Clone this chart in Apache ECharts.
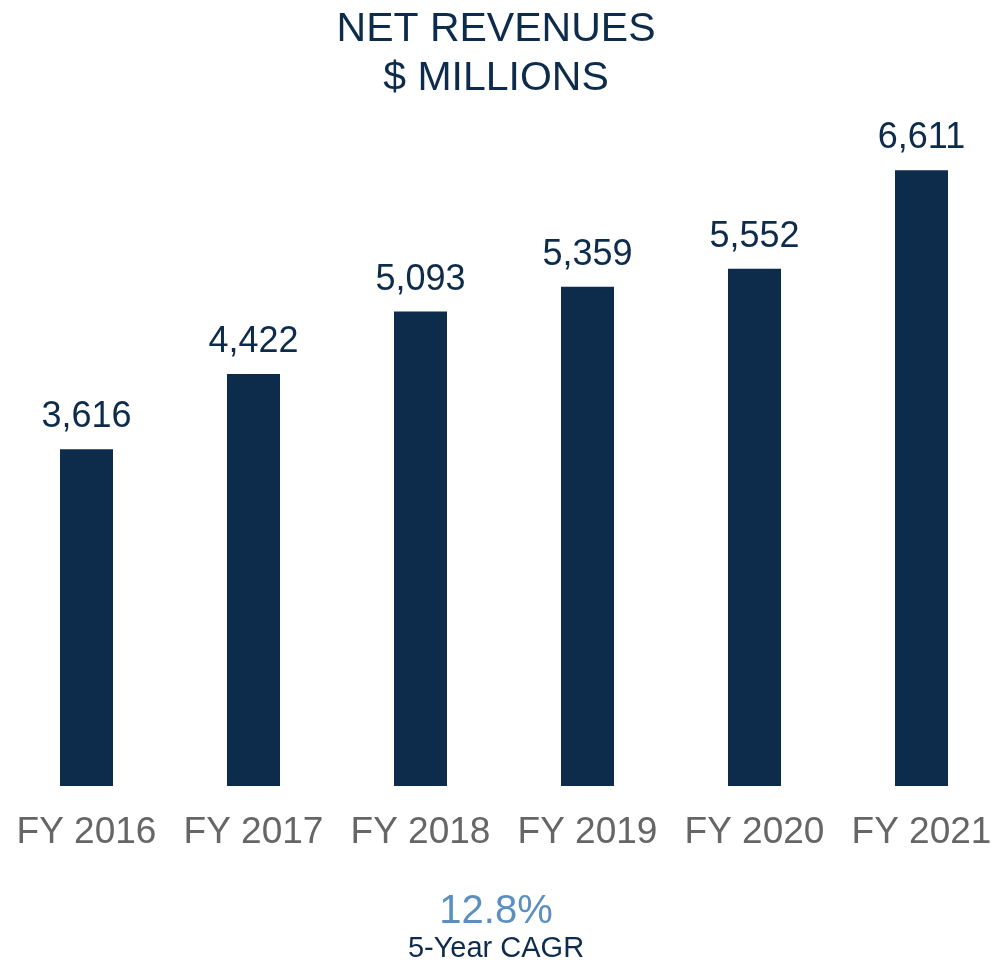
<!DOCTYPE html>
<html>
<head>
<meta charset="utf-8">
<script src="https://cdn.jsdelivr.net/npm/echarts@6/dist/echarts.min.js"></script>
<style>html,body{margin:0;padding:0;background:#fff;}#c{width:992px;height:960px;}</style>
</head>
<body>
<div id="c"></div>
<script>
const categories = ['FY 2016', 'FY 2017', 'FY 2018', 'FY 2019', 'FY 2020', 'FY 2021'];
const revenues = [3616, 4422, 5093, 5359, 5552, 6611];
const cagrValue = '12.8%';
const cagrLabel = '5-Year CAGR';

const chart = echarts.init(document.getElementById('c'));
const font = '"Liberation Sans", Arial, sans-serif';
chart.setOption({
  animation: false,
  backgroundColor: '#ffffff',
  title: [
    { text: 'NET REVENUES\n$ MILLIONS', left: 'center', top: 0,
      textStyle: { fontFamily: font, fontSize: 41, fontWeight: 'normal', color: '#0d2b4b', lineHeight: 49 } },
    { text: cagrValue, left: 'center', top: 887,
      textStyle: { fontFamily: font, fontSize: 40, fontWeight: 'normal', color: '#5b8fc0' } },
    { text: cagrLabel, left: 'center', top: 929,
      textStyle: { fontFamily: font, fontSize: 29, fontWeight: 'normal', color: '#0d2b4b' } }
  ],
  grid: { left: 3, width: 1002, top: 134, bottom: 174, containLabel: false, outerBoundsMode: 'none' },
  xAxis: {
    type: 'category', data: categories,
    axisLine: { show: false }, axisTick: { show: false },
    axisLabel: { fontFamily: font, fontSize: 37, color: '#666666', margin: 28, interval: 0 }
  },
  yAxis: { type: 'value', min: 0, max: 7000, show: false, splitLine: { show: false } },
  series: [{
    type: 'bar', data: revenues, barWidth: 53,
    itemStyle: { color: '#0d2b4b' },
    label: { show: true, position: 'top', distance: 14, fontFamily: font, fontSize: 36, color: '#0d2b4b',
      formatter: p => p.value.toLocaleString('en-US') }
  }]
});
</script>
</body>
</html>
